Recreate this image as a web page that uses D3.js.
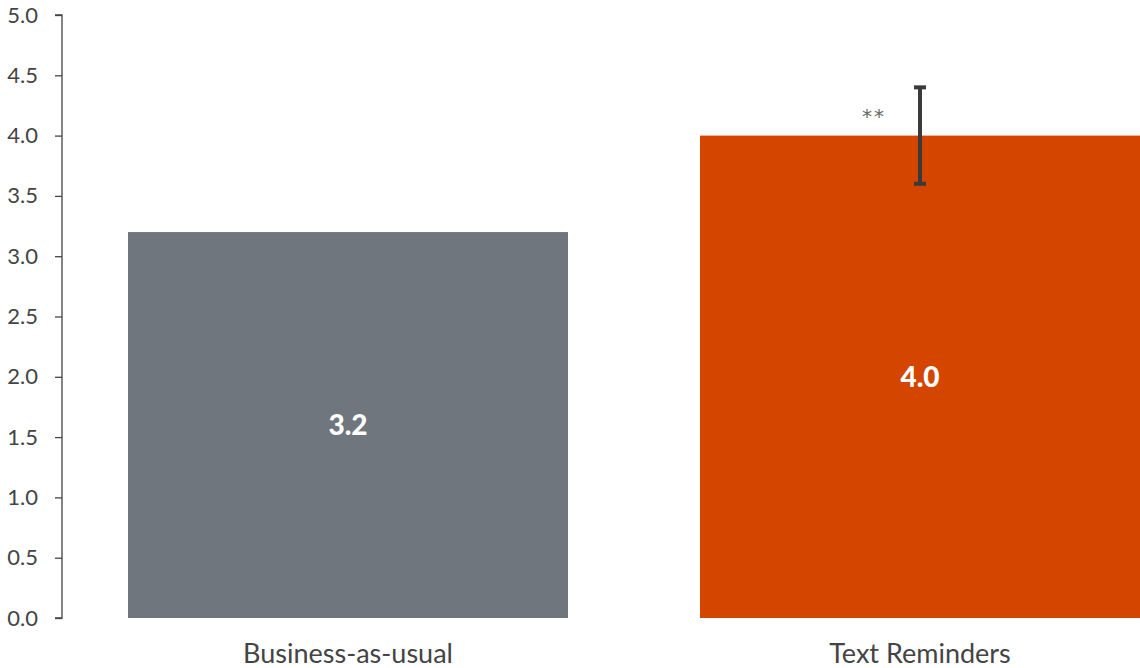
<!DOCTYPE html>
<html>
<head>
<meta charset="utf-8">
<script src="https://cdn.jsdelivr.net/npm/d3@7"></script>
<style>
  body { margin: 0; background: #fff; }
  svg { display: block; }
</style>
</head>
<body>
<div id="chart"></div>
<script>
const categories = ["Business-as-usual", "Text Reminders"];
const values = [3.2, 4.0];
const errors = [null, 0.4];
const stars = ["", "**"];
const colors = ["#6f767d", "#d44500"];
const yTicks = [0, 0.5, 1, 1.5, 2, 2.5, 3, 3.5, 4, 4.5, 5];

const width = 1140, height = 668;

const svg = d3.select("#chart")
    .append("svg")
    .attr("width", width)
    .attr("height", height);

const x = d3.scaleBand()
    .domain(categories)
    .range([62, 1206])
    .paddingInner(0.2308)
    .paddingOuter(0.1154);

const y = d3.scaleLinear()
    .domain([0, 5])
    .range([618, 15]);

// bars
svg.append("g")
    .selectAll("rect")
    .data(categories)
    .enter().append("rect")
    .attr("x", d => x(d))
    .attr("y", (d, i) => y(values[i]))
    .attr("width", x.bandwidth())
    .attr("height", (d, i) => y(0) - y(values[i]))
    .attr("fill", (d, i) => colors[i]);

// value labels in the middle of each bar
svg.append("g")
    .selectAll("text")
    .data(categories)
    .enter().append("text")
    .attr("x", d => x(d) + x.bandwidth() / 2)
    .attr("y", (d, i) => (y(values[i]) + y(0)) / 2)
    .attr("dy", "0.36em")
    .attr("text-anchor", "middle")
    .attr("font-family", "Lato, sans-serif")
    .attr("font-weight", "900")
    .attr("font-size", "28px")
    .attr("fill", "#fff")
    .text((d, i) => values[i].toFixed(1));

// error bars
const errG = svg.append("g")
    .attr("stroke", "#3a3a3a")
    .attr("stroke-width", 4);

categories.forEach((c, i) => {
    if (errors[i] == null) return;
    const cx = x(c) + x.bandwidth() / 2;
    const top = y(values[i] + errors[i]);
    const bot = y(values[i] - errors[i]);
    errG.append("line").attr("x1", cx).attr("x2", cx).attr("y1", top).attr("y2", bot);
    errG.append("line").attr("x1", cx - 6).attr("x2", cx + 6).attr("y1", top).attr("y2", top);
    errG.append("line").attr("x1", cx - 6).attr("x2", cx + 6).attr("y1", bot).attr("y2", bot);

    svg.append("text")
        .attr("x", cx - 46)
        .attr("y", (y(values[i]) + top) / 2)
        .attr("dy", "0.6em")
        .attr("text-anchor", "middle")
        .attr("font-family", "DejaVu Sans, sans-serif")
        .attr("font-size", "20px")
        .attr("letter-spacing", "2px")
        .attr("fill", "#666")
        .text(stars[i]);
});

// y axis
const yAxis = svg.append("g")
    .attr("transform", "translate(62,0)")
    .call(d3.axisLeft(y).tickValues(yTicks).tickFormat(d3.format(".1f")).tickSize(7).tickPadding(17));

yAxis.select(".domain")
    .attr("stroke", "#444")
    .attr("stroke-width", 1.3)
    .attr("d", "M-7," + y(5) + "H0V" + y(0) + "H-7");
yAxis.selectAll(".tick line").attr("stroke", "#444").attr("stroke-width", 1.3);
yAxis.selectAll(".tick text")
    .attr("font-family", "Lato, sans-serif")
    .attr("font-size", "22px")
    .attr("fill", "#444");

// x labels
svg.append("g")
    .selectAll("text")
    .data(categories)
    .enter().append("text")
    .attr("x", d => x(d) + x.bandwidth() / 2)
    .attr("y", 663)
    .attr("text-anchor", "middle")
    .attr("font-family", "Lato, sans-serif")
    .attr("font-size", "27px")
    .attr("fill", "#444")
    .text(d => d);
</script>
</body>
</html>
